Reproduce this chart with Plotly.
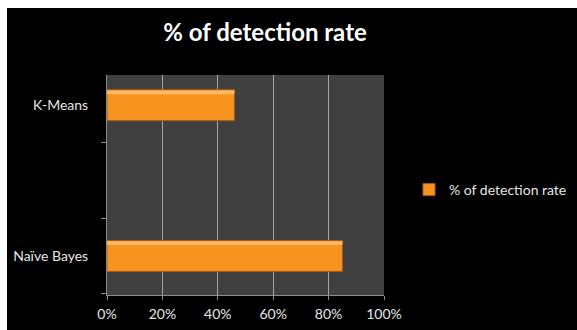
import plotly.graph_objects as go

categories = ["Naïve Bayes", " ", "K-Means"]
detection_rate = [0.85, None, 0.46]
series_name = "% of detection rate"
title_text = "% of detection rate"

W, H = 577, 330
L, R, T, B = 107, 193, 75, 35
pw, ph = W - L - R, H - T - B

def px_x(p):
    return (p - L) / pw

def px_y(p):
    return (H - B - p) / ph

fig = go.Figure()
fig.add_trace(go.Bar(
    y=categories, x=detection_rate, orientation="h", name=series_name,
    width=0.41,
    marker=dict(color="#F7931F", line=dict(color="#A85A14", width=1)),
    showlegend=True,
))
# glossy highlight along the top edge of each bar
fig.add_trace(go.Bar(
    y=categories, x=detection_rate, orientation="h", name=series_name,
    width=0.05, offset=0.145,
    marker=dict(color="#FDB868", line=dict(width=0)),
    showlegend=False, hoverinfo="skip",
))

fig.update_layout(
    width=W, height=H,
    barmode="overlay",
    margin=dict(l=L, r=R, t=T, b=B, autoexpand=False),
    paper_bgcolor="black",
    plot_bgcolor="#404040",
    font=dict(family="Lato", color="#E6E6E6", size=14),
    title=dict(text="<b>" + title_text + "</b>", x=265 / W, xanchor="center",
               y=1 - 33 / H, yanchor="middle",
               font=dict(family="Lato", size=24, color="white")),
    showlegend=True,
    legend=dict(x=px_x(572), y=px_y(190), xanchor="right", yanchor="middle",
                bgcolor="rgba(0,0,0,0)", font=dict(size=14, color="#E6E6E6"),
                itemwidth=30),
    xaxis=dict(range=[0, 1], dtick=0.2, tickformat=".0%", showgrid=True,
               gridcolor="#A6A6A6", gridwidth=1, zeroline=False,
               showline=True, linecolor="#8C8C8C", ticks="outside",
               ticklen=4, tickcolor="#8C8C8C", fixedrange=True,
               ticklabelstandoff=2,
               tickfont=dict(size=14, color="#E6E6E6")),
    yaxis=dict(type="category", categoryorder="array", categoryarray=categories,
               range=[-0.517, 2.40], tickson="boundaries", ticks="outside",
               ticklen=5, tickcolor="#8C8C8C", showgrid=False, showline=True,
               linecolor="#8C8C8C", ticklabelstandoff=15,
               tickfont=dict(size=14, color="#E6E6E6")),
    shapes=[
        dict(type="rect", xref="paper", yref="paper",
             x0=px_x(0), x1=px_x(W), y0=px_y(8), y1=px_y(0),
             fillcolor="white", line=dict(width=0), layer="above"),
        dict(type="rect", xref="paper", yref="paper",
             x0=px_x(0), x1=px_x(7), y0=px_y(H), y1=px_y(0),
             fillcolor="white", line=dict(width=0), layer="above"),
    ],
)

fig.write_html("out.html")
